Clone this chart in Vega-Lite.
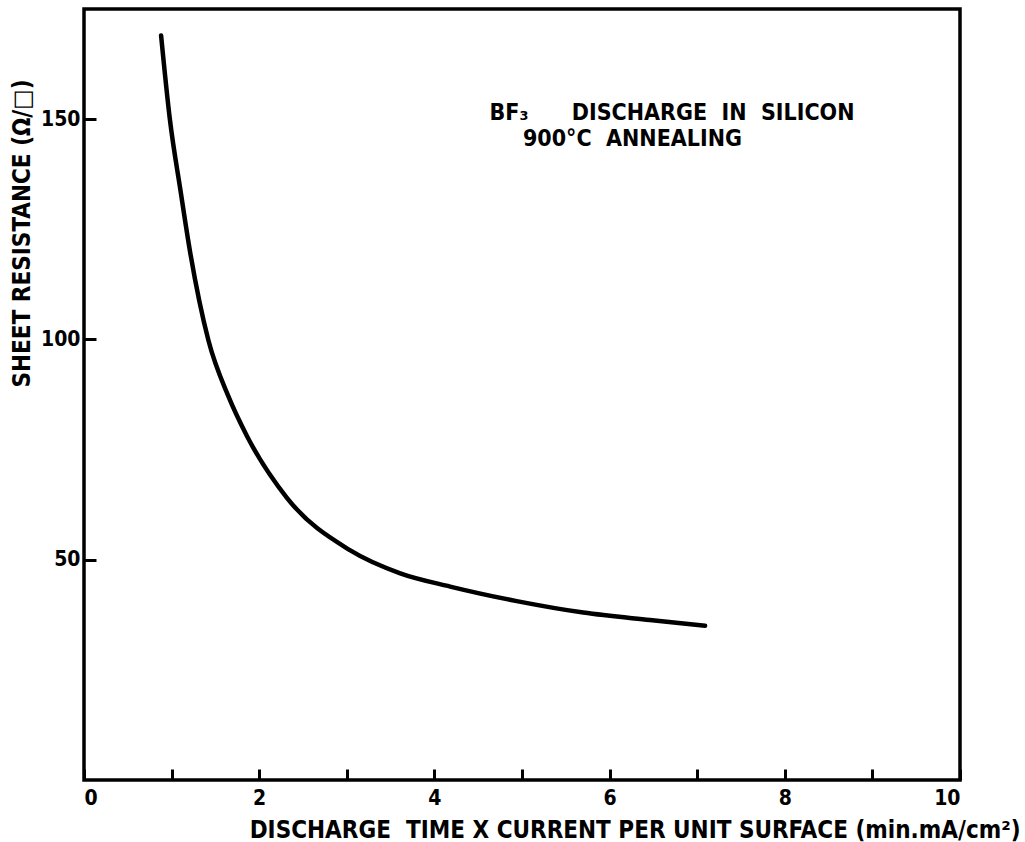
{
  "$schema": "https://vega.github.io/schema/vega-lite/v6.json",
  "width": 876,
  "height": 771,
  "autosize": {"type": "none"},
  "padding": {"left": 84, "top": 9, "right": 65, "bottom": 62},
  "background": "white",
  "config": {
    "view": {"stroke": "black", "strokeWidth": 3.5},
    "font": "DejaVu Sans Condensed",
    "axis": {
      "domain": false,
      "grid": false,
      "tickColor": "black",
      "tickWidth": 3,
      "labelColor": "black",
      "labelFont": "DejaVu Sans Condensed",
      "labelFontWeight": "bold",
      "labelFontSize": 21,
      "titleColor": "black",
      "titleFont": "DejaVu Sans Condensed",
      "titleFontWeight": "bold",
      "titleFontSize": 24
    }
  },
  "datasets": {
    "curve": [
      {"x": 0.88, "y": 169},
      {"x": 0.98, "y": 150},
      {"x": 1.1, "y": 134},
      {"x": 1.21, "y": 120},
      {"x": 1.42, "y": 99.8},
      {"x": 1.65, "y": 87},
      {"x": 1.857, "y": 78.2},
      {"x": 2.314, "y": 64.1},
      {"x": 3.04, "y": 52.1},
      {"x": 3.61, "y": 46.9},
      {"x": 4.18, "y": 43.9},
      {"x": 4.94, "y": 40.6},
      {"x": 5.7, "y": 38},
      {"x": 6.46, "y": 36.3},
      {"x": 7.09, "y": 35}
    ],
    "notes": [
      {"x": 4.63, "y": 151.5, "text": "BF₃\u00a0\u00a0\u00a0\u00a0\u00a0\u00a0DISCHARGE\u00a0\u00a0IN\u00a0\u00a0SILICON"},
      {"x": 5.01, "y": 145.6, "text": "900°C\u00a0\u00a0ANNEALING"}
    ]
  },
  "layer": [
    {
      "data": {"name": "curve"},
      "mark": {"type": "line", "color": "black", "strokeWidth": 4.5, "interpolate": "monotone", "strokeCap": "round"},
      "encoding": {
        "x": {
          "field": "x", "type": "quantitative",
          "scale": {"domain": [0, 10], "nice": false},
          "axis": {
            "values": [0, 1, 2, 3, 4, 5, 6, 7, 8, 9, 10],
            "format": "d",
            "labelExpr": "datum.value % 2 === 0 ? datum.label : ''",
            "tickSize": -11,
            "labelPadding": 18,
            "title": "DISCHARGE\u00a0\u00a0TIME X CURRENT PER UNIT SURFACE (min.mA/cm²)",
            "titleAnchor": "end",
            "titleAlign": "right",
            "titleX": 936,
            "titleY": 57,
            "titleBaseline": "alphabetic"
          }
        },
        "y": {
          "field": "y", "type": "quantitative",
          "scale": {"domain": [0, 175], "nice": false},
          "axis": {
            "values": [50, 100, 150],
            "format": "d",
            "tickSize": -12,
            "labelPadding": 16,
            "title": "SHEET RESISTANCE (Ω/□)",
            "titleAngle": -90,
            "titleAlign": "center",
            "titleBaseline": "middle",
            "titleX": -62,
            "titleY": 224
          }
        }
      }
    },
    {
      "data": {"name": "notes"},
      "mark": {"type": "text", "align": "left", "baseline": "middle", "font": "DejaVu Sans Condensed", "fontWeight": "bold", "fontSize": 23, "color": "black"},
      "encoding": {
        "x": {"field": "x", "type": "quantitative"},
        "y": {"field": "y", "type": "quantitative"},
        "text": {"field": "text"}
      }
    }
  ]
}
